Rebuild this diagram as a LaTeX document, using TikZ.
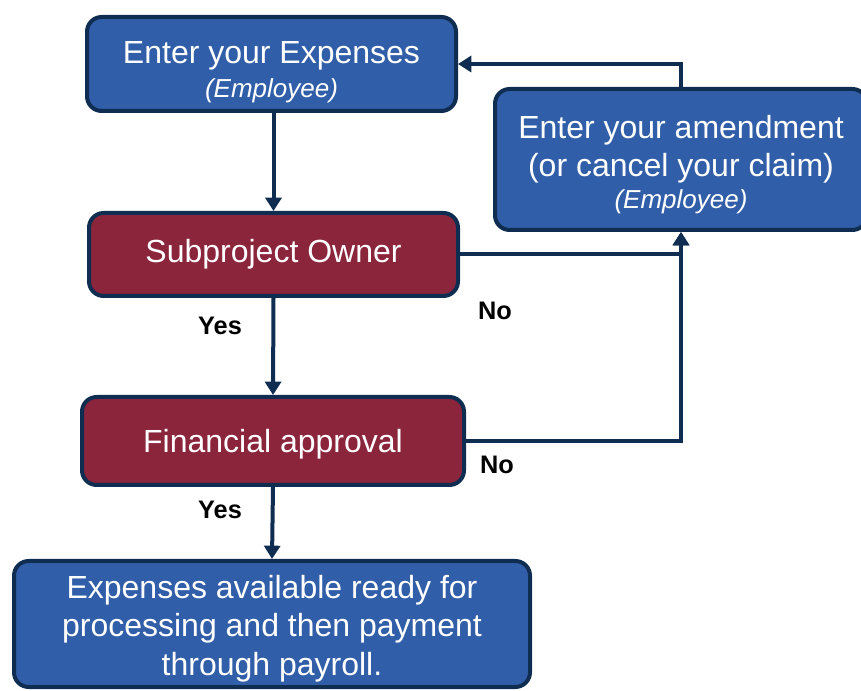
\documentclass[tikz,border=0pt]{standalone}
\usepackage{fontspec}
\setmainfont{Liberation Sans}
\usetikzlibrary{arrows.meta}
\definecolor{boxblue}{HTML}{315EA8}
\definecolor{boxred}{HTML}{8B253C}
\definecolor{navy}{HTML}{0F2D50}
\begin{document}
\begin{tikzpicture}[x=0.75pt,y=-0.75pt,
  box/.style={draw=navy, line width=3pt, rounded corners=11pt, text=white, align=center, inner sep=0pt},
  bluebox/.style={box, fill=boxblue},
  redbox/.style={box, fill=boxred},
  conn/.style={draw=navy, line width=3pt, -{Triangle[length=10pt,width=12pt]}},
  lbl/.style={font=\fontsize{19}{23}\selectfont\bfseries, text=black, inner sep=0pt}]
\useasboundingbox (0,0) rectangle (861,691);
\node[bluebox, minimum width=276.75pt, minimum height=70.5pt, font=\fontsize{24}{25}\selectfont] (top) at (271.5,64)
  {\rule{0pt}{29pt}Enter your Expenses\\\fontsize{19.5}{23}\selectfont\itshape (Employee)};
\node[bluebox, minimum width=279pt, minimum height=105.75pt, font=\fontsize{24}{28.5}\selectfont] (amend) at (681,159.5)
  {\rule{0pt}{25pt}Enter your amendment\\(or cancel your claim)\\[-4.5pt]\fontsize{19.5}{23}\selectfont\itshape (Employee)};
\node[redbox, minimum width=276.75pt, minimum height=62.25pt, font=\fontsize{24}{28.5}\selectfont] (sub) at (273.5,254.5) {Subproject Owner};
\node[redbox, minimum width=286.5pt, minimum height=66pt, font=\fontsize{24}{28.5}\selectfont] (fin) at (273,441) {\rule{0pt}{22pt}Financial approval};
\node[bluebox, minimum width=387pt, minimum height=94.5pt, font=\fontsize{24}{29}\selectfont] (final) at (272,624)
  {\rule{0pt}{24.3pt}Expenses available ready for\\processing and then payment\\through payroll.};
\node[lbl] (yes1) at (220,326) {Yes};
\node[lbl] (no1) at (495,311) {No};
\node[lbl] (yes2) at (220,510) {Yes};
\node[lbl] (no2) at (497,465) {No};
\draw[conn] (top.south -| sub.north) -- (sub.north);
\draw[conn] (sub.south) -- (fin.north);
\draw[conn] (fin.south) -- (final.north);
\draw[conn] (sub.east) -| (amend.south);
\draw[conn] (fin.east) -| (amend.south);
\draw[conn] (amend.north) |- (top.east);
\end{tikzpicture}
\end{document}
